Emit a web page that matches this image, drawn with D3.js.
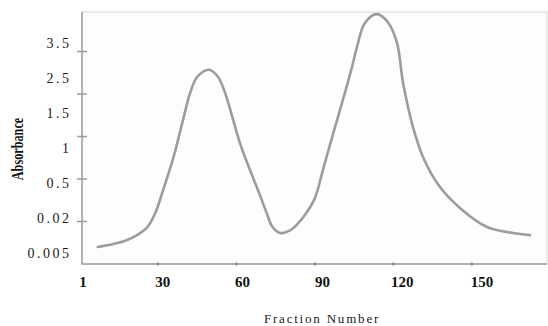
<!DOCTYPE html>
<html>
<head>
<meta charset="utf-8">
<script src="https://cdn.jsdelivr.net/npm/d3@7"></script>
<style>
  html, body { margin: 0; padding: 0; background: #fff; }
  svg { display: block; }
</style>
</head>
<body>
<div id="chart"></div>
<script>
// elution profile (y in axis units, one unit per tick mark)
const fraction = [7, 13, 18, 22, 26, 29, 32, 36, 39.6, 42.3, 45, 49.5, 53, 55.7, 61.4, 65.2, 69, 71.7, 73.6, 76.7,
  80.5, 83.5, 86.5, 90, 93.1, 96.9, 100.7, 104.2, 106.1, 109.1, 113.7, 117.9, 121.4, 123.7, 127.5, 131.3, 137.8, 145.4, 155.8, 165.7, 172.2];
const absorbance = [0.40, 0.47, 0.56, 0.68, 0.87, 1.20, 1.74, 2.52, 3.39, 4.02, 4.40, 4.57, 4.40, 4.02, 2.84, 2.21, 1.62, 1.18, 0.89, 0.73,
  0.79, 0.95, 1.18, 1.55, 2.22, 3.05, 3.86, 4.64, 5.11, 5.67, 5.88, 5.69, 5.20, 4.26, 3.22, 2.52, 1.81, 1.32, 0.87, 0.73, 0.68];

const xTickValues = [1, 30, 60, 90, 120, 150];
const xLabels = ['1', '30', '60', '90', '120', '150'];
const yTickValues = [1, 2, 3, 4, 5];
const yLabels = ['0.005', '0.02', '0.5', '1', '1.5', '2.5', '3.5'];

const width = 548, height = 326;
const margin = { top: 12, right: 1, bottom: 62, left: 82 };

const svg = d3.select('#chart').append('svg')
  .attr('width', width)
  .attr('height', height);

const x = d3.scaleLinear()
  .domain([1, 178.7])
  .range([margin.left, width - margin.right]);

const y = d3.scaleLinear()
  .domain([0, 5.93])
  .range([height - margin.bottom, margin.top]);

const yLab = d3.scalePoint().domain(yLabels).range([258, 48]);
const xLab = d3.scalePoint().domain(xLabels).range([83, 482]);

const x0 = x.range()[0], x1 = x.range()[1];
const y0 = y.range()[0], y1 = y.range()[1];

// plot frame
svg.append('rect')
  .attr('x', x0).attr('y', y1)
  .attr('width', x1 - x0).attr('height', y0 - y1)
  .attr('fill', '#fdfdfd')
  .attr('stroke', '#e2e2e2')
  .attr('stroke-width', 1.5);

svg.append('line')
  .attr('x1', x0).attr('x2', x0).attr('y1', y1).attr('y2', y0)
  .attr('stroke', '#b0b0b0').attr('stroke-width', 2);
svg.append('line')
  .attr('x1', x0).attr('x2', x1).attr('y1', y0).attr('y2', y0)
  .attr('stroke', '#b0b0b0').attr('stroke-width', 2);

// tick marks
svg.append('g').selectAll('line')
  .data(yTickValues)
  .join('line')
  .attr('x1', x0 - 5).attr('x2', x0 + 5)
  .attr('y1', d => y(d)).attr('y2', d => y(d))
  .attr('stroke', '#9a9a9a').attr('stroke-width', 1.5);

svg.append('g').selectAll('line')
  .data(xTickValues.slice(1))
  .join('line')
  .attr('x1', d => x(d)).attr('x2', d => x(d))
  .attr('y1', y0 - 1.5).attr('y2', y0 + 1.5)
  .attr('stroke', '#888').attr('stroke-width', 2);

// tick labels
svg.append('g').selectAll('text')
  .data(yLabels)
  .join('text')
  .attr('x', 71.5)
  .attr('y', d => yLab(d))
  .attr('text-anchor', 'end')
  .attr('font-family', '"Liberation Serif", "Times New Roman", serif')
  .attr('font-size', 14)
  .attr('letter-spacing', 2.5)
  .attr('fill', '#1a1a1a')
  .text(d => d);

svg.append('g').selectAll('text')
  .data(xLabels)
  .join('text')
  .attr('x', d => xLab(d))
  .attr('y', 287)
  .attr('text-anchor', 'middle')
  .attr('font-family', '"Liberation Serif", "Times New Roman", serif')
  .attr('font-size', 15)
  .attr('font-weight', 'bold')
  .attr('fill', '#111')
  .text(d => d);

// axis titles
svg.append('text')
  .attr('transform', 'translate(22.5,149) rotate(-90) scale(0.72,1)')
  .attr('text-anchor', 'middle')
  .attr('font-family', '"Liberation Serif", "Times New Roman", serif')
  .attr('font-weight', 'bold')
  .attr('font-size', 17)
  .attr('fill', '#111')
  .text('Absorbance');

svg.append('text')
  .attr('x', 322)
  .attr('y', 323)
  .attr('text-anchor', 'middle')
  .attr('font-family', '"Liberation Serif", "Times New Roman", serif')
  .attr('font-size', 13)
  .attr('letter-spacing', 1.8)
  .attr('fill', '#222')
  .text('Fraction Number');

// curve
const line = d3.line()
  .x((d, i) => x(fraction[i]))
  .y(d => y(d))
  .curve(d3.curveCatmullRom.alpha(0.5));

svg.append('path')
  .datum(absorbance)
  .attr('d', line)
  .attr('fill', 'none')
  .attr('stroke', '#9c9c9c')
  .attr('stroke-width', 2.6)
  .attr('stroke-linecap', 'round');
</script>
</body>
</html>
